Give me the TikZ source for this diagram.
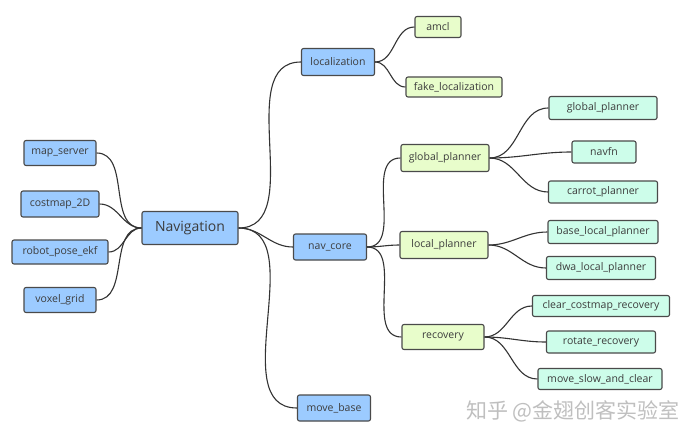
\documentclass[tikz,border=0pt]{standalone}
\usepackage{fontspec}
\setmainfont{Open Sans}
\newfontfamily\cjk{Noto Sans CJK SC}
\definecolor{bluefill}{HTML}{9CCBFF}
\definecolor{limefill}{HTML}{E8FDCB}
\definecolor{mintfill}{HTML}{CDFDEA}
\definecolor{edgegray}{HTML}{4A4A4A}
\definecolor{txtgray}{HTML}{3C3C3C}
\definecolor{linegray}{HTML}{333333}
\begin{document}
\begin{tikzpicture}[x=1pt,y=-1pt,
  box/.style={draw=edgegray,line width=1.1pt,rounded corners=2pt,inner sep=1pt,
    text=txtgray,font=\fontsize{10.5}{12}\selectfont},
  bluebox/.style={box,fill=bluefill},
  limebox/.style={box,fill=limefill},
  mintbox/.style={box,fill=mintfill},
  link/.style={draw=linegray,line width=1.1pt},
  sz/.style 2 args={minimum width=#1pt,minimum height=#2pt}]
\useasboundingbox (0,0) rectangle (693,441);
\fill[white] (0,0) rectangle (693,441);
% left branch
\node[bluebox,sz={72}{25}] (ms) at (60,153) {map\_server};
\node[bluebox,sz={78}{26}] (cm) at (60,204) {costmap\_2D};
\node[bluebox,sz={96}{24}] (rpe) at (60,252) {robot\_pose\_ekf};
\node[bluebox,sz={72}{25}] (vg) at (60,300) {voxel\_grid};
% root
\node[bluebox,sz={96}{33},font=\fontsize{14}{16}\selectfont] (nav) at (190,228) {Navigation};
% level 1 right
\node[bluebox,sz={73}{27}] (loc) at (338,62) {localization};
\node[bluebox,sz={73}{26}] (core) at (330,247) {nav\_core};
\node[bluebox,sz={73}{26}] (mb) at (334,408) {move\_base};
% localization children
\node[limebox,sz={46}{21}] (amcl) at (438,27) {amcl};
\node[limebox,sz={96}{20}] (fake) at (454,87) {fake\_localization};
% nav_core children
\node[limebox,sz={88}{27}] (gp) at (445,158) {global\_planner};
\node[limebox,sz={88}{27}] (lp) at (444,245) {local\_planner};
\node[limebox,sz={82}{25}] (rec) at (443,337) {recovery};
% leaves
\node[mintbox,sz={108}{23}] (gpl) at (603,108) {global\_planner};
\node[mintbox,sz={64}{22}] (navfn) at (604,152) {navfn};
\node[mintbox,sz={109}{22}] (carrot) at (603,192) {carrot\_planner};
\node[mintbox,sz={110}{23}] (blp) at (603,232) {base\_local\_planner};
\node[mintbox,sz={109}{23}] (dwa) at (601,268) {dwa\_local\_planner};
\node[mintbox,sz={137}{21}] (ccr) at (601,306) {clear\_costmap\_recovery};
\node[mintbox,sz={109}{22}] (rr) at (601,342) {rotate\_recovery};
\node[mintbox,sz={124}{21}] (msc) at (600,379) {move\_slow\_and\_clear};
% connectors
\foreach \c in {ms,cm,rpe,vg}
  \draw[link] (nav.west) to[out=180,in=0] (\c.east);
\foreach \c in {loc,core,mb}
  \draw[link] (nav.east) to[out=0,in=180] (\c.west);
\foreach \c in {amcl,fake}
  \draw[link] (loc.east) to[out=0,in=180] (\c.west);
\foreach \c in {gp,lp,rec}
  \draw[link] (core.east) to[out=0,in=180] (\c.west);
\foreach \c in {gpl,navfn,carrot}
  \draw[link] (gp.east) to[out=0,in=180] (\c.west);
\foreach \c in {blp,dwa}
  \draw[link] (lp.east) to[out=0,in=180] (\c.west);
\foreach \c in {ccr,rr,msc}
  \draw[link] (rec.east) to[out=0,in=180] (\c.west);
% watermark
\node[text=black!25,font=\cjk\fontsize{21}{24}\selectfont,inner sep=0pt] (wm) at (573,411) {知乎\ @金翅创客实验室};
\end{tikzpicture}
\end{document}
